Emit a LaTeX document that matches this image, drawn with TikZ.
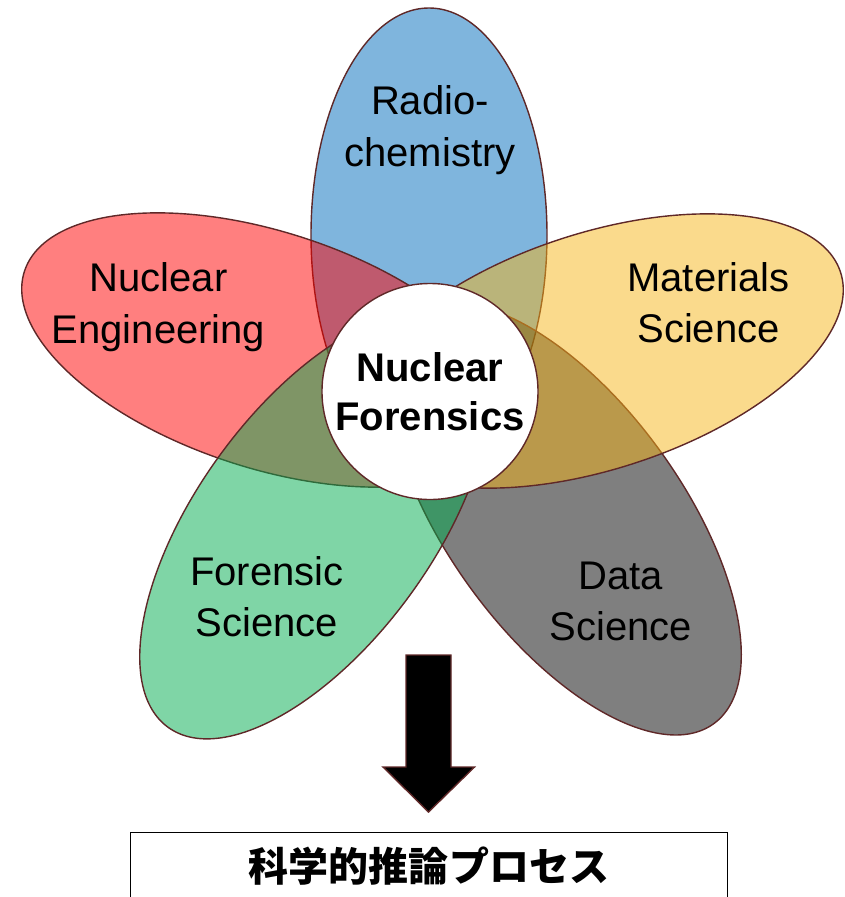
\documentclass[tikz,border=0pt]{standalone}
\usepackage{fontspec}
\setmainfont{Liberation Sans}
\newfontfamily\cjk{Noto Sans CJK JP}
\definecolor{rim}{RGB}{95,40,40}
\definecolor{radioblue}{RGB}{0,108,188}
\definecolor{nucred}{RGB}{255,0,0}
\definecolor{matgold}{RGB}{245,181,25}
\definecolor{forgreen}{RGB}{0,172,78}
\definecolor{datagray}{RGB}{0,0,0}
\begin{document}
\begin{tikzpicture}[x=0.025cm, y=-0.025cm, line width=1pt,
  petal/.style={draw=rim, fill opacity=0.5},
  petaltext/.style={align=center, inner sep=0pt, font=\fontsize{28.45}{36.5}\selectfont},
  core/.style={circle, draw=rim, fill=white, minimum size=5.4cm, inner sep=0pt, align=center, font=\fontsize{28.45}{35}\selectfont\bfseries},
  result/.style={draw=black, line width=0.7pt, minimum width=14.9cm, minimum height=1.7cm, inner sep=0pt, font=\fontsize{28.45}{34}\selectfont\cjk\bfseries}]
\clip (0, 0) rectangle (845, 897);
%Petals
\filldraw[petal, fill=radioblue] (429, 235) ellipse [x radius=118, y radius=227];
\filldraw[petal, fill=nucred, rotate around={-18:(267, 350)}] (267, 350) ellipse [x radius=255, y radius=118];
\filldraw[petal, fill=datagray, rotate around={-54:(565, 519)}] (565, 519) ellipse [x radius=253, y radius=117];
\filldraw[petal, fill=forgreen, rotate around={54:(315, 525)}] (315, 525) ellipse [x radius=250, y radius=118];
\filldraw[petal, fill=matgold, rotate around={18:(598, 351)}] (598, 351) ellipse [x radius=255, y radius=118];
%Centre
\node[core] (core) at (430, 391.5) {Nuclear\\Forensics};
%Labels
\node[petaltext] (radio) at (430, 130) {Radio-\\chemistry};
\node[petaltext] (nuceng) at (158.5, 307) {Nuclear\\Engineering};
\node[petaltext] (matsci) at (708.5, 303) {Materials\\Science};
\node[petaltext] (forsci) at (267, 596.5) {Forensic\\Science};
\node[petaltext] (datasci) at (621, 601.5) {Data\\Science};
%Arrow and box
\filldraw[draw=rim, fill=black] (406, 655) -- (451, 655) -- (451, 767) -- (474.5, 767) -- (428.5, 812) -- (383, 767) -- (406, 767) -- cycle;
\node[result] (process) at (429, 866) {科学的推論プロセス};
\end{tikzpicture}
\end{document}
